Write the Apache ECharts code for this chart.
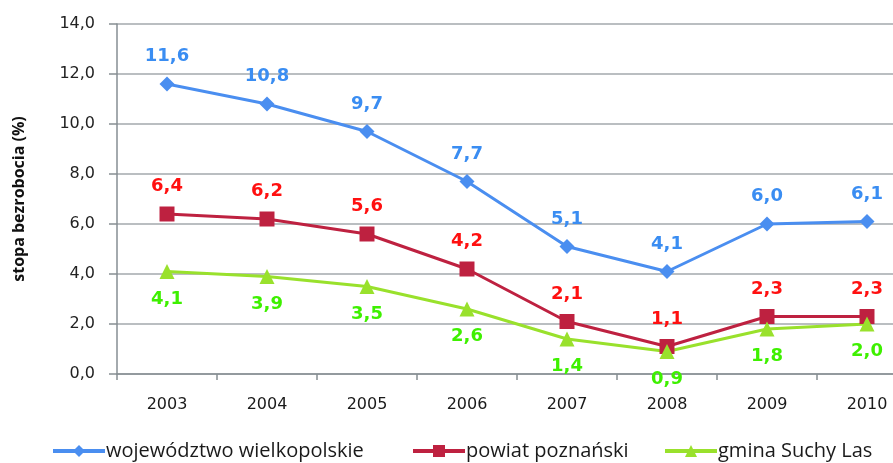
<!DOCTYPE html>
<html>
<head>
<meta charset="utf-8">
<script src="https://cdn.jsdelivr.net/npm/echarts@6/dist/echarts.min.js"></script>
<style>
  html, body { margin: 0; padding: 0; background: #fff; }
  #chart { width: 893px; height: 463px; }
</style>
</head>
<body>
<div id="chart"></div>
<script>
// lata
var years = ['2003', '2004', '2005', '2006', '2007', '2008', '2009', '2010'];
// stopa bezrobocia (%)
var wojewodztwo = [11.6, 10.8, 9.7, 7.7, 5.1, 4.1, 6.0, 6.1];
var powiat = [6.4, 6.2, 5.6, 4.2, 2.1, 1.1, 2.3, 2.3];
var gmina = [4.1, 3.9, 3.5, 2.6, 1.4, 0.9, 1.8, 2.0];
var seriesNames = ['województwo wielkopolskie', 'powiat poznański', 'gmina Suchy Las'];

function fmt(v) {
    return v.toFixed(1).replace('.', ',');
}

function makeLabel(color, pos) {
    return {
        show: true,
        position: pos,
        distance: 11,
        color: color,
        fontFamily: 'DejaVu Sans',
        fontWeight: 'bold',
        fontSize: 18,
        formatter: function(p) { return fmt(p.value); }
    };
}

function makeLegend(name, left) {
    return {
        data: [name],
        left: left,
        top: 436,
        padding: [5, 5, 2, 5],
        itemWidth: 52,
        itemHeight: 15,
        itemGap: 0,
        lineStyle: { width: 4 },
        textStyle: { fontFamily: 'Open Sans', fontSize: 20, color: '#1a1a1a', padding: [0, 0, 0, -4] }
    };
}

var chart = echarts.init(document.getElementById('chart'));
var option = {
    animation: false,
    legend: [
        makeLegend(seriesNames[0], 46),
        makeLegend(seriesNames[1], 406),
        makeLegend(seriesNames[2], 658)
    ],
    grid: { left: 117, top: 24, bottom: 89, width: 800, outerBoundsMode: 'none' },
    xAxis: {
        type: 'category',
        data: years,
        axisLine: { lineStyle: { color: '#868e93', width: 1.5 } },
        axisTick: { show: true, length: 6, lineStyle: { color: '#868e93', width: 1.5 } },
        axisLabel: { margin: 23, color: '#1a1a1a', fontFamily: 'DejaVu Sans', fontSize: 16 }
    },
    yAxis: {
        type: 'value',
        min: 0,
        max: 14,
        interval: 2,
        name: 'stopa bezrobocia (%)',
        nameLocation: 'middle',
        nameGap: 90,
        nameTextStyle: { fontFamily: 'Open Sans', fontWeight: 'bold', fontSize: 16, color: '#111' },
        axisLine: { show: true, lineStyle: { color: '#868e93', width: 1.5 } },
        axisTick: { show: true, length: 8, lineStyle: { color: '#868e93', width: 1.5 } },
        axisLabel: {
            margin: 22,
            color: '#222',
            fontFamily: 'DejaVu Sans',
            fontSize: 16,
            formatter: function(v) { return fmt(v); }
        },
        splitLine: { lineStyle: { color: '#a3a9ac', width: 1.5 } }
    },
    series: [
        {
            name: seriesNames[0],
            type: 'line',
            data: wojewodztwo,
            symbol: 'diamond',
            symbolSize: 15,
            lineStyle: { color: '#4a8ef0', width: 3 },
            itemStyle: { color: '#4a8ef0' },
            label: makeLabel('#3a8df2', 'top')
        },
        {
            name: seriesNames[1],
            type: 'line',
            data: powiat,
            symbol: 'rect',
            symbolSize: 15,
            lineStyle: { color: '#be2140', width: 3 },
            itemStyle: { color: '#be2140' },
            label: makeLabel('#ff1010', 'top')
        },
        {
            name: seriesNames[2],
            type: 'line',
            data: gmina,
            symbol: 'triangle',
            symbolSize: 15,
            lineStyle: { color: '#99e12c', width: 3 },
            itemStyle: { color: '#99e12c' },
            label: makeLabel('#3ef000', 'bottom')
        }
    ]
};
chart.setOption(option);
</script>
</body>
</html>
